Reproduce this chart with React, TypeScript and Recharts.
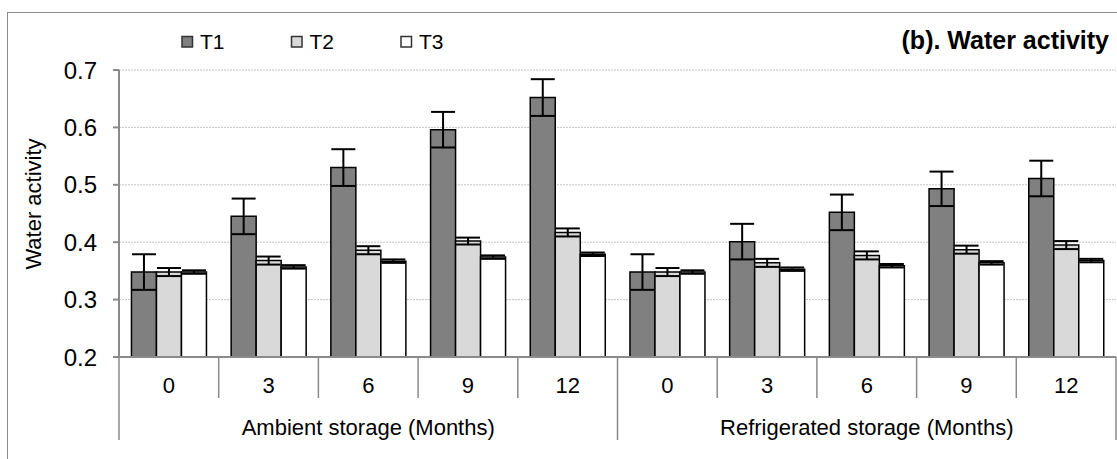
import { BarChart, Bar, XAxis, YAxis, CartesianGrid, ErrorBar } from 'recharts';

const FONT = "'Liberation Sans', Arial, sans-serif";
const AXIS_GREY = '#8a8a8a';

const W = 1117;
const H = 459;
const PLOT_LEFT = 119;
const PLOT_RIGHT = 1;
const PLOT_TOP = 70;
const X_AXIS_H = 102;

const groups = ['Ambient storage (Months)', 'Refrigerated storage (Months)'];
const months = ['0', '3', '6', '9', '12'];

// means per treatment: ambient 0..12 first, then refrigerated 0..12
const t1 = [0.348, 0.445, 0.53, 0.596, 0.652, 0.348, 0.401, 0.452, 0.493, 0.511];
const t2 = [0.348, 0.368, 0.386, 0.402, 0.417, 0.348, 0.364, 0.377, 0.387, 0.395];
const t3 = [0.348, 0.357, 0.367, 0.374, 0.379, 0.348, 0.353, 0.359, 0.364, 0.368];

// standard deviations
const t1Err = [0.031, 0.031, 0.032, 0.031, 0.032, 0.031, 0.031, 0.031, 0.03, 0.031];
const t2Err = [0.007, 0.007, 0.007, 0.006, 0.007, 0.007, 0.007, 0.007, 0.007, 0.007];
const t3Err = [0.003, 0.003, 0.003, 0.003, 0.003, 0.003, 0.003, 0.003, 0.003, 0.003];

const yTicks = [0.2, 0.3, 0.4, 0.5, 0.6, 0.7];

const series = [
  { key: 'T1', err: 'T1err', fill: '#808080' },
  { key: 'T2', err: 'T2err', fill: '#d9d9d9' },
  { key: 'T3', err: 'T3err', fill: '#ffffff' },
];

const data = t1.map((v, i) => ({
  cat: `${Math.floor(i / months.length)}-${months[i % months.length]}`,
  T1: v,
  T2: t2[i],
  T3: t3[i],
  T1err: t1Err[i],
  T2err: t2Err[i],
  T3err: t3Err[i],
}));

const BAND = (W - PLOT_LEFT - PLOT_RIGHT) / data.length;

// month label, category dividers and the group caption under the x axis
function CategoryTick(props: any) {
  const { x, y, payload, index } = props;
  const half = payload && payload.offset ? payload.offset : BAND / 2;
  const per = months.length;
  const first = index % per === 0;
  const last = index === data.length - 1;
  return (
    <g>
      <line
        x1={x - half}
        y1={y}
        x2={x - half}
        y2={y + (first ? 83 : 41)}
        stroke={AXIS_GREY}
        strokeWidth={1.5}
      />
      {last && (
        <line x1={x + half} y1={y} x2={x + half} y2={y + 83} stroke={AXIS_GREY} strokeWidth={1.5} />
      )}
      <text x={x} y={y + 36} textAnchor="middle" fontSize={22} fontFamily={FONT} fill="#000">
        {months[index % per]}
      </text>
      {first && (
        <text
          x={x - half + per * half}
          y={y + 78}
          textAnchor="middle"
          fontSize={22}
          fontFamily={FONT}
          fill="#000"
        >
          {groups[Math.floor(index / per)]}
        </text>
      )}
    </g>
  );
}

function YLabel(props: any) {
  const vb = props.viewBox || { x: 0, y: PLOT_TOP };
  const cx = vb.x + 33;
  const cy = 204;
  return (
    <text
      x={cx}
      y={cy}
      transform={`rotate(-90, ${cx}, ${cy})`}
      textAnchor="middle"
      dominantBaseline="central"
      fontSize={22}
      fontFamily={FONT}
      fill="#000"
    >
      Water activity
    </text>
  );
}

export default function App() {
  return (
    <div
      style={{
        position: 'absolute',
        left: 0,
        top: 0,
        width: W,
        height: H,
        overflow: 'hidden',
        background: '#fff',
      }}
    >
      <div
        style={{
          position: 'absolute',
          left: 7,
          top: 12,
          width: 1300,
          height: 700,
          border: '1px solid #8c8c8c',
        }}
      />
      <div style={{ position: 'absolute', left: 0, top: 0 }}>
        <BarChart
          width={W}
          height={H}
          data={data}
          margin={{ top: PLOT_TOP, right: PLOT_RIGHT, left: 0, bottom: 0 }}
          barCategoryGap="12.5%"
          barGap={0}
        >
          <CartesianGrid vertical={false} stroke="#c4c4c4" strokeDasharray="2 1" />
          <XAxis
            dataKey="cat"
            height={X_AXIS_H}
            interval={0}
            tickLine={false}
            tickSize={0}
            tickMargin={0}
            axisLine={{ stroke: AXIS_GREY, strokeWidth: 2 }}
            tick={<CategoryTick />}
          />
          <YAxis
            width={PLOT_LEFT}
            domain={[0.2, 0.7]}
            ticks={yTicks}
            allowDataOverflow
            tickFormatter={(v: number) => v.toFixed(1)}
            tick={{ fontSize: 24, fill: '#000', fontFamily: FONT }}
            tickLine={{ stroke: AXIS_GREY, strokeWidth: 2 }}
            tickSize={6}
            tickMargin={16}
            axisLine={{ stroke: AXIS_GREY, strokeWidth: 2 }}
            label={<YLabel />}
          />
          {series.map((s) => (
            <Bar
              key={s.key}
              dataKey={s.key}
              name={s.key}
              fill={s.fill}
              stroke="#000"
              strokeWidth={1.5}
              isAnimationActive={false}
            >
              <ErrorBar dataKey={s.err} width={12} stroke="#000" strokeWidth={2} direction="y" />
            </Bar>
          ))}
        </BarChart>
      </div>
      <svg
        width={W}
        height={H}
        style={{ position: 'absolute', left: 0, top: 0, pointerEvents: 'none' }}
      >
        {series.map((s, i) => (
          <g key={s.key}>
            <rect
              x={182 + i * 109.5}
              y={36.5}
              width={10.5}
              height={10.5}
              fill={s.fill}
              stroke="#333"
              strokeWidth={1.5}
            />
            <text x={200 + i * 109.5} y={49} fontSize={21} fontFamily={FONT} fill="#000">
              {s.key}
            </text>
          </g>
        ))}
        <text
          x={1109}
          y={49}
          textAnchor="end"
          fontSize={25}
          fontWeight="bold"
          fontFamily={FONT}
          fill="#000"
        >
          (b). Water activity
        </text>
      </svg>
    </div>
  );
}
